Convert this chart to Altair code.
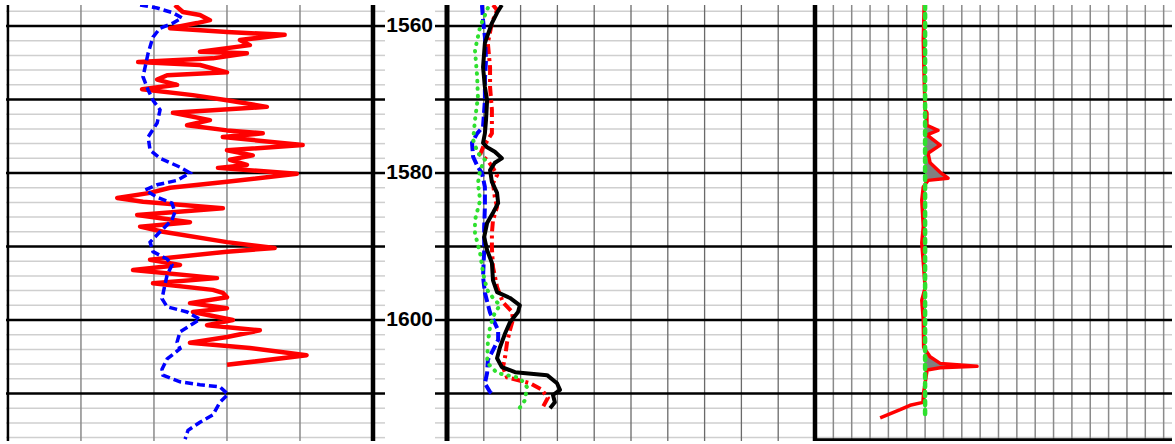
import altair as alt
import pandas as pd

# ---------------- data ----------------
Y_DOMAIN = [1557.14, 1616.46]
MAJOR_DEPTHS = [1560, 1570, 1580, 1590, 1600, 1610]
MINOR_DEPTHS = [1558, 1562, 1564, 1566, 1568, 1572, 1574, 1576, 1578, 1582, 1584,
                1586, 1588, 1592, 1594, 1596, 1598, 1602, 1604, 1606, 1608, 1612,
                1614, 1616]
DEPTH_LABELS = [1560, 1580, 1600]
TRACK3_BOTTOM = [1616.33]

# Track 1 (gamma ray + SP-like dashed curve)
T1_DOMAIN = [-0.8, 150]
T1_GRID = [30, 60, 90, 120]
gr_depth = [1557.14, 1558.1, 1558.5, 1559.2, 1559.6, 1560.3, 1560.8, 1561.2, 1561.9, 1562.6,
            1563.5, 1563.7, 1564.4, 1564.9, 1565.3, 1566.3, 1566.7, 1567.3, 1568.0, 1568.6,
            1569.4, 1570.1, 1571.0, 1571.8, 1572.8, 1573.5, 1574.2, 1574.6, 1575.1, 1576.2,
            1576.9, 1577.6, 1578.2, 1578.9, 1579.3, 1580.1, 1581.2, 1582.0, 1582.7, 1583.4,
            1583.9, 1584.8, 1585.7, 1586.7, 1587.3, 1588.0, 1589.4, 1590.2, 1590.7, 1591.8,
            1592.5, 1593.2, 1594.3, 1595.0, 1595.9, 1596.3, 1596.9, 1597.7, 1598.4, 1598.9,
            1600.0, 1600.7, 1601.4, 1602.3, 1603.1, 1603.8, 1604.8, 1606.1]
gr_value = [68.6, 71.9, 78.9, 83.0, 77.7, 66.6, 90.0, 113.7, 95.3, 99.4,
            78.9, 98.2, 84.2, 53.5, 78.9, 90.0, 65.4, 61.3, 69.5, 55.1,
            76.0, 90.0, 106.4, 67.8, 83.0, 73.6, 90.0, 104.7, 88.3, 121.1,
            90.0, 100.6, 91.2, 98.2, 86.3, 118.7, 90.0, 66.6, 58.4, 44.9,
            55.5, 88.3, 53.1, 74.8, 54.3, 63.7, 90.0, 109.6, 90.0, 58.4,
            70.7, 51.4, 85.9, 59.6, 84.2, 88.3, 90.0, 74.8, 90.0, 76.0,
            92.4, 81.8, 103.5, 90.0, 74.8, 99.4, 122.7, 90.0]
sp_depth = [1557.14, 1557.55, 1558.2, 1558.9, 1559.6, 1560.3, 1561.5, 1563.7, 1566.9, 1568.7,
            1570.1, 1571.4, 1573.2, 1575.1, 1576.9, 1578.0, 1579.2, 1580.0, 1581.0, 1581.6,
            1582.3, 1583.3, 1584.1, 1585.3, 1586.4, 1588.0, 1589.4, 1590.7, 1591.7, 1592.5,
            1593.9, 1595.2, 1597.1, 1598.2, 1598.9, 1599.9, 1600.5, 1601.6, 1603.0, 1603.9,
            1605.3, 1606.7, 1607.5, 1608.4, 1608.8, 1609.1, 1610.1, 1611.2, 1612.9, 1613.9,
            1615.0, 1616.2]
sp_value = [54.3, 61.3, 67.8, 71.5, 67.8, 62.5, 59.6, 57.6, 55.5, 57.6,
            59.6, 62.5, 61.3, 57.6, 58.4, 62.5, 70.7, 74.8, 69.5, 61.3,
            56.4, 61.3, 67.4, 68.6, 67.4, 62.5, 58.4, 59.6, 65.4, 67.4,
            65.4, 64.5, 63.3, 65.4, 73.6, 78.9, 76.0, 70.7, 69.5, 70.7,
            65.4, 63.3, 63.7, 70.7, 78.9, 87.1, 90.4, 87.1, 84.2, 78.9,
            74.0, 72.8]

# Track 2 (four curves)
T2_DOMAIN = [0, 100]
T2_GRID = [10, 20, 30, 40, 50, 60, 70, 80, 90]
blk_depth = [1557.14, 1558.2, 1559.6, 1562.3, 1565.6, 1568.3, 1570.1, 1572.8, 1574.6, 1575.9,
             1576.5, 1577.1, 1578.0, 1578.6, 1579.6, 1581.2, 1582.7, 1584.1, 1585.4, 1586.8,
             1588.7, 1590.5, 1592.2, 1594.6, 1596.2, 1597.0, 1598.0, 1598.9, 1600.3, 1601.8,
             1603.7, 1605.2, 1606.4, 1607.1, 1607.5, 1608.6, 1609.5, 1610.2, 1611.2, 1612.0]
blk_value = [14.9, 13.6, 12.2, 10.3, 9.8, 10.3, 10.9, 10.6, 10.3, 9.8,
             10.9, 13.0, 14.9, 13.0, 11.7, 12.2, 13.6, 13.9, 12.5, 10.9,
             10.1, 10.9, 12.2, 12.5, 13.6, 17.1, 19.8, 19.3, 17.1, 15.8,
             14.4, 13.6, 14.9, 18.5, 27.2, 29.9, 30.7, 28.8, 29.3, 28.0]
red2_depth = [1557.14, 1557.8, 1559.6, 1562.3, 1565.6, 1568.3, 1571.4, 1574.6, 1575.5, 1576.5,
              1577.5, 1578.2, 1579.3, 1580.3, 1581.4, 1583.3, 1584.6, 1586.4, 1588.2, 1590.2,
              1592.8, 1595.5, 1597.6, 1598.9, 1600.0, 1601.4, 1603.1, 1605.0, 1606.4, 1607.8,
              1608.6, 1609.5, 1610.6, 1611.8]
red2_value = [12.5, 13.6, 12.2, 11.1, 11.7, 11.7, 12.2, 12.2, 11.1, 9.8,
              9.0, 10.9, 12.5, 13.6, 12.5, 13.0, 13.6, 12.5, 12.2, 12.2,
              12.5, 13.6, 15.2, 17.7, 17.9, 17.1, 16.3, 15.8, 15.2, 16.3,
              22.6, 25.8, 27.4, 26.1]
blu2_depth = [1557.14, 1559.2, 1561.5, 1564.6, 1567.3, 1570.1, 1573.7, 1574.6, 1575.9, 1577.8,
              1579.2, 1580.0, 1581.9, 1584.6, 1587.3, 1590.5, 1594.1, 1596.3, 1599.0, 1601.4,
              1602.7, 1604.1, 1605.4, 1607.2, 1608.6, 1609.8, 1610.2]
blu2_value = [9.5, 9.8, 10.3, 10.6, 10.3, 10.3, 9.8, 8.2, 6.8, 7.1,
              8.4, 9.5, 10.3, 10.3, 10.1, 10.1, 9.8, 10.3, 11.7, 13.9,
              13.9, 12.5, 11.1, 10.9, 10.3, 11.7, 12.5]
grn2_depth = [1557.55, 1560.1, 1563.3, 1566.9, 1569.7, 1572.8, 1575.5, 1577.3, 1578.2, 1579.6,
              1581.4, 1583.7, 1586.4, 1588.2, 1590.9, 1593.6, 1595.9, 1597.0, 1598.0, 1599.0,
              1600.9, 1603.1, 1605.8, 1607.2, 1607.9, 1609.1, 1610.9, 1612.5]
grn2_value = [11.1, 9.0, 7.6, 8.2, 8.4, 7.6, 7.1, 8.4, 10.3, 9.0,
              8.4, 9.0, 7.6, 7.6, 9.0, 9.8, 10.9, 12.5, 14.4, 13.0,
              11.7, 11.1, 10.9, 13.6, 19.8, 21.7, 21.2, 19.0]

# Track 3 (two curves, shaded where red > green)
T3_DOMAIN = [-6, 13.455]
T3_GRID = [-5, -4, -3, -2, -1, 0, 1, 2, 3, 4, 5, 6, 7, 8, 9, 10, 11, 12, 13]
red3_depth = [1557.14, 1561.9, 1567.3, 1571.4, 1571.8, 1573.5, 1574.2, 1574.8, 1576.2, 1577.3,
              1578.6, 1579.9, 1580.7, 1581.0, 1581.9, 1583.7, 1587.3, 1589.5, 1592.8, 1595.6,
              1597.3, 1600.0, 1603.7, 1605.0, 1605.9, 1606.3, 1606.5, 1606.8, 1609.9, 1611.2,
              1611.6, 1612.2, 1613.3]
red3_value = [-0.05, -0.1, -0.05, 0.0, 0.1, 0.1, 0.7, 0.1, 0.82, 0.16,
              0.27, 0.82, 1.25, 0.16, -0.1, -0.18, -0.1, -0.18, -0.08, 0.0,
              -0.18, -0.1, -0.08, 0.27, 0.82, 2.83, 0.82, 0.11, -0.08, -0.12,
              -0.82, -1.36, -2.45]
grn3_depth = [1557.14, 1613.3]
grn3_value = [0.0, 0.0]

# ---------------- layout ----------------
H = 436
W1, W_DEPTH, W2, W3 = 367, 74, 368, 357

RED = "#ff0000"
BLUE = "#0000ff"
GREEN = "#2ee02e"
BLACK = "#000000"


def yenc():
    return alt.Y("depth:Q", scale=alt.Scale(domain=Y_DOMAIN, reverse=True, nice=False, zero=False),
                 axis=None)


def xenc(dom, field="v"):
    return alt.X(f"{field}:Q", scale=alt.Scale(domain=dom, nice=False, zero=False), axis=None)


def curve(depths, values, dom, **style):
    df = pd.DataFrame({"depth": depths, "v": values, "i": list(range(len(depths)))})
    return alt.Chart(df).mark_line(clip=True, **style).encode(
        x=xenc(dom), y=yenc(), order=alt.Order("i:Q"))


def hlines(depths, dom, color, width):
    df = pd.DataFrame({"depth": depths, "v": [dom[0]] * len(depths)})
    return alt.Chart(df).mark_rule(color=color, strokeWidth=width, clip=True).encode(y=yenc())


def vlines(values, dom, color, width):
    df = pd.DataFrame({"v": values})
    return alt.Chart(df).mark_rule(color=color, strokeWidth=width, clip=True).encode(x=xenc(dom))


def base_grid(dom, vgrid, vcolor, vwidth):
    return [
        hlines(MINOR_DEPTHS, dom, "#cfcfcf", 1.5),
        vlines(vgrid, dom, vcolor, vwidth),
        hlines(MAJOR_DEPTHS, dom, BLACK, 2.5),
    ]


# Track 1
t1 = alt.layer(
    *base_grid(T1_DOMAIN, T1_GRID, "#8a8a8a", 1.5),
    curve(gr_depth, gr_value, T1_DOMAIN, color=RED, strokeWidth=4.5, strokeJoin="round"),
    curve(sp_depth, sp_value, T1_DOMAIN, color=BLUE, strokeWidth=3.5, strokeDash=[8, 4]),
    vlines([0], T1_DOMAIN, BLACK, 2.5),
    vlines([150], T1_DOMAIN, BLACK, 4.5),
).properties(width=W1, height=H)

# Depth track
maj_df = pd.DataFrame({"depth": MAJOR_DEPTHS})
min_df = pd.DataFrame({"depth": MINOR_DEPTHS})
lab_df = pd.DataFrame({"depth": DEPTH_LABELS, "label": [str(d) for d in DEPTH_LABELS]})


def ticks(df, color, width):
    left = alt.Chart(df).mark_rule(color=color, strokeWidth=width, clip=True).encode(
        y=yenc(), x=alt.value(0), x2=alt.value(12))
    right = alt.Chart(df).mark_rule(color=color, strokeWidth=width, clip=True).encode(
        y=yenc(), x=alt.value(62), x2=alt.value(W_DEPTH))
    return [left, right]


border_df = pd.DataFrame({"depth": [Y_DOMAIN[0]]})
depth_track = alt.layer(
    *ticks(min_df, "#cfcfcf", 1.5),
    *ticks(maj_df, BLACK, 2.5),
    alt.Chart(lab_df).mark_text(align="right", baseline="middle", fontSize=21, fontWeight="bold",
                                font="Liberation Sans", color=BLACK).encode(
        y=yenc(), text="label:N", x=alt.value(60)),
    alt.Chart(border_df).mark_rule(color=BLACK, strokeWidth=4.5, clip=True).encode(
        x=alt.value(0), y=alt.value(0), y2=alt.value(H)),
    alt.Chart(border_df).mark_rule(color=BLACK, strokeWidth=5, clip=True).encode(
        x=alt.value(W_DEPTH), y=alt.value(0), y2=alt.value(H)),
).properties(width=W_DEPTH, height=H)

# Track 2
t2 = alt.layer(
    *base_grid(T2_DOMAIN, T2_GRID, "#6a6a6a", 1.3),
    curve(red2_depth, red2_value, T2_DOMAIN, color=RED, strokeWidth=4, strokeDash=[10, 4, 3, 4]),
    curve(blu2_depth, blu2_value, T2_DOMAIN, color=BLUE, strokeWidth=4, strokeDash=[10, 4]),
    curve(grn2_depth, grn2_value, T2_DOMAIN, color=GREEN, strokeWidth=4, strokeDash=[0.5, 7],
          strokeCap="round"),
    curve(blk_depth, blk_value, T2_DOMAIN, color=BLACK, strokeWidth=4, strokeJoin="round"),
    vlines([0], T2_DOMAIN, BLACK, 5),
    vlines([100], T2_DOMAIN, BLACK, 4.5),
).properties(width=W2, height=H)

# Track 3
fill_df = pd.DataFrame({"depth": red3_depth, "v": [max(v, 0.0) for v in red3_value],
                        "zero": [0.0] * len(red3_depth)})
t3 = alt.layer(
    *base_grid(T3_DOMAIN, T3_GRID, "#8a8a8a", 1.5),
    alt.Chart(fill_df).mark_area(orient="horizontal", color="#808080", clip=True).encode(
        y=yenc(), x=xenc(T3_DOMAIN), x2="zero:Q"),
    curve(red3_depth, red3_value, T3_DOMAIN, color=RED, strokeWidth=3.5, strokeJoin="round"),
    curve(grn3_depth, grn3_value, T3_DOMAIN, color=GREEN, strokeWidth=4.5, strokeDash=[4, 5],
          strokeCap="round"),
    hlines(TRACK3_BOTTOM, T3_DOMAIN, BLACK, 3.5),
    vlines([-6], T3_DOMAIN, BLACK, 4.5),
).properties(width=W3, height=H)

chart = alt.hconcat(t1, depth_track, t2, t3, spacing=0).properties(
    padding={"left": 6, "top": 5, "right": 0, "bottom": 0},
    background="white",
).configure_view(stroke=None)

chart.save("out.html", embed_options={"renderer": "svg", "actions": False})
